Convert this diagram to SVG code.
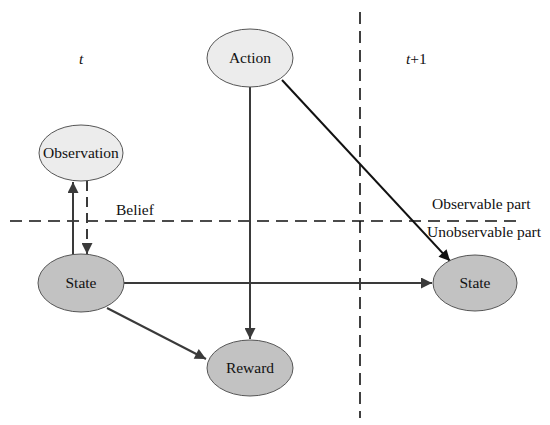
<svg xmlns="http://www.w3.org/2000/svg" width="550" height="425" viewBox="0 0 550 425">
<style>
text{font-family:"Liberation Serif","Times New Roman",serif;font-size:15.5px;fill:#111}
.lbl{text-anchor:middle}
.light{fill:#ececec;stroke:#555;stroke-width:1}
.dark{fill:#c2c2c2;stroke:#555;stroke-width:1}
.sep{stroke:#111;stroke-width:1.6;stroke-dasharray:12 7;fill:none}
.c{stroke:#3a3a3a;stroke-width:2;fill:none;marker-end:url(#ah)}
.cb{stroke:#111;stroke-width:2;fill:none;marker-end:url(#ahb)}
</style>
<defs>
<marker id="ah" viewBox="0 0 10 10" refX="10" refY="5" markerWidth="6.5" markerHeight="5.5" orient="auto" markerUnits="strokeWidth"><path d="M0,0 L10,5 L0,10 z" fill="#3a3a3a"/></marker>
<marker id="ahb" viewBox="0 0 10 10" refX="10" refY="5" markerWidth="6.5" markerHeight="5.5" orient="auto" markerUnits="strokeWidth"><path d="M0,0 L10,5 L0,10 z" fill="#111"/></marker>
</defs>
<rect width="550" height="425" fill="#fff"/>
<g id="separators">
<line class="sep" x1="10" y1="221" x2="520" y2="221"/>
<line class="sep" x1="360" y1="12" x2="360" y2="418"/>
</g>
<g id="labels">
<text x="79" y="64" font-style="italic">t</text>
<text x="406" y="64"><tspan font-style="italic">t</tspan>+1</text>
<text x="116" y="215">Belief</text>
<text x="432" y="209">Observable part</text>
<text x="427" y="237">Unobservable part</text>
</g>
<g id="connectors">
<line class="c" x1="73" y1="255" x2="73" y2="182"/>
<line class="c" x1="87" y1="181" x2="87" y2="254" stroke-dasharray="10 6"/>
<line class="c" x1="250" y1="87" x2="250" y2="339"/>
<line class="cb" x1="282" y1="80" x2="450" y2="261"/>
<line x1="123" y1="283" x2="292" y2="283" stroke="#111" stroke-width="2.2"/>
<line class="c" x1="123" y1="283" x2="432" y2="283"/>
<line class="c" x1="107" y1="308" x2="206" y2="359"/>
</g>
<g id="observation"><ellipse class="light" cx="81" cy="153" rx="42" ry="28"/><text class="lbl" x="81" y="158">Observation</text></g>
<g id="action"><ellipse class="light" cx="250" cy="58" rx="43" ry="29"/><text class="lbl" x="250" y="63">Action</text></g>
<g id="state-t"><ellipse class="dark" cx="81" cy="283" rx="43" ry="29"/><text class="lbl" x="81" y="288">State</text></g>
<g id="reward"><ellipse class="dark" cx="250" cy="368" rx="43" ry="28"/><text class="lbl" x="250" y="373">Reward</text></g>
<g id="state-t1"><ellipse class="dark" cx="475" cy="283" rx="42" ry="28"/><text class="lbl" x="475" y="288">State</text></g>
</svg>
